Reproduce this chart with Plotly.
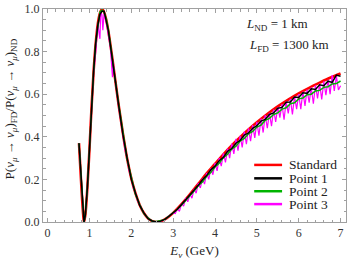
import plotly.graph_objects as go

# ---------------- data ----------------
E_std = [0.75, 0.8, 0.85, 0.87, 0.9, 0.95, 1.0, 1.05, 1.1, 1.15, 1.2, 1.25, 1.3, 1.35, 1.4, 1.45,
         1.5, 1.55, 1.6, 1.7, 1.8, 1.9, 2.0, 2.1, 2.2, 2.3, 2.4, 2.5, 2.6, 2.7, 2.8, 2.9,
         3.0, 3.2, 3.4, 3.6, 3.8, 4.0, 4.2, 4.4, 4.6, 4.8, 5.0, 5.25, 5.5, 5.75, 6.0, 6.25, 6.5, 6.75, 7.0]
P_std = [0.37, 0.19, 0.035, 0.0, 0.03, 0.16, 0.34, 0.54, 0.71, 0.84, 0.93, 0.98, 1.0, 0.985, 0.95, 0.898,
         0.834, 0.764, 0.691, 0.546, 0.415, 0.298, 0.205, 0.134, 0.080, 0.042, 0.017, 0.004, 0.0, 0.003, 0.0125, 0.026,
         0.043, 0.084, 0.130, 0.179, 0.228, 0.273, 0.318, 0.360, 0.398, 0.434, 0.468, 0.507, 0.543, 0.575, 0.604, 0.630, 0.654, 0.677, 0.697]

E_pt = [0.75, 0.8, 0.85, 0.87, 0.9, 0.95, 1.0, 1.05, 1.1, 1.15, 1.2, 1.25, 1.3, 1.35, 1.4, 1.45,
        1.5, 1.55, 1.6, 1.7, 1.8, 1.9, 2.0, 2.1, 2.2, 2.3, 2.4, 2.5, 2.6, 2.7, 2.8, 2.9,
        3.0, 3.1, 3.2, 3.3, 3.4, 3.5, 3.6, 3.7, 3.8, 3.9, 4.0, 4.1, 4.2, 4.3, 4.4, 4.5, 4.6, 4.7, 4.8, 4.9,
        5.0, 5.1, 5.2, 5.3, 5.4, 5.5, 5.6, 5.7, 5.8, 5.9, 6.0, 6.1, 6.2, 6.3, 6.4, 6.5, 6.6, 6.7, 6.8, 6.9, 7.0]
P_p1 = [0.37, 0.19, 0.035, 0.0, 0.03, 0.16, 0.34, 0.54, 0.71, 0.84, 0.925, 0.975, 0.99, 0.99, 0.945, 0.90,
        0.83, 0.765, 0.69, 0.545, 0.41, 0.30, 0.20, 0.135, 0.078, 0.043, 0.016, 0.005, 0.0, 0.004, 0.012, 0.027,
        0.044, 0.060, 0.082, 0.104, 0.125, 0.150, 0.172, 0.198, 0.218, 0.245, 0.262, 0.288, 0.303, 0.332, 0.345,
        0.370, 0.383, 0.408, 0.418, 0.440, 0.452, 0.474, 0.482, 0.505, 0.512, 0.534, 0.538, 0.562, 0.563, 0.587,
        0.585, 0.607, 0.604, 0.625, 0.622, 0.644, 0.640, 0.661, 0.655, 0.690, 0.684]
P_p2 = [0.37, 0.19, 0.035, 0.0, 0.03, 0.16, 0.34, 0.54, 0.71, 0.845, 0.93, 0.985, 0.995, 0.985, 0.955, 0.905,
        0.835, 0.77, 0.69, 0.55, 0.415, 0.295, 0.21, 0.13, 0.082, 0.04, 0.019, 0.003, 0.002, 0.005, 0.011, 0.028,
        0.042, 0.060, 0.080, 0.100, 0.124, 0.145, 0.170, 0.188, 0.215, 0.232, 0.258, 0.276, 0.302, 0.318, 0.342,
        0.356, 0.380, 0.392, 0.414, 0.425, 0.446, 0.455, 0.478, 0.486, 0.505, 0.512, 0.530, 0.536, 0.555, 0.560,
        0.578, 0.582, 0.598, 0.600, 0.615, 0.618, 0.632, 0.635, 0.648, 0.650, 0.662]

E_p3 = [0.75, 0.8, 0.85, 0.87, 0.9, 0.95, 1.0, 1.05, 1.1, 1.15, 1.18, 1.2, 1.22, 1.25, 1.27, 1.3, 1.32, 1.35,
        1.4, 1.45, 1.5, 1.55, 1.57, 1.6, 1.65, 1.7, 1.8, 1.85, 1.9, 1.95, 2.0, 2.05, 2.1, 2.15, 2.2, 2.3, 2.4,
        2.5, 2.6, 2.7, 2.8, 2.9,
        3.0, 3.05, 3.1, 3.15, 3.2, 3.25, 3.3, 3.35, 3.4, 3.45, 3.5, 3.55, 3.6, 3.65, 3.7, 3.75, 3.8, 3.85,
        3.9, 3.95, 4.0, 4.05, 4.1, 4.15, 4.2, 4.25, 4.3, 4.35, 4.4, 4.45, 4.5, 4.55, 4.6, 4.65, 4.7, 4.75,
        4.8, 4.85, 4.9, 4.95, 5.0, 5.05, 5.1, 5.15, 5.2, 5.25, 5.3, 5.35, 5.4, 5.45, 5.5, 5.55, 5.6, 5.65,
        5.7, 5.75, 5.8, 5.85, 5.9, 5.95, 6.0, 6.05, 6.1, 6.15, 6.2, 6.25, 6.3, 6.35, 6.4, 6.45, 6.5, 6.55,
        6.6, 6.65, 6.7, 6.75, 6.8, 6.85, 6.9, 6.95, 7.0]
P_p3 = [0.37, 0.19, 0.035, 0.0, 0.03, 0.16, 0.34, 0.53, 0.70, 0.80, 0.88, 0.93, 0.90, 0.86, 0.99, 0.97, 0.90, 0.98,
        0.94, 0.88, 0.82, 0.68, 0.75, 0.69, 0.60, 0.54, 0.41, 0.34, 0.30, 0.24, 0.21, 0.16, 0.135, 0.10, 0.082, 0.040, 0.020,
        0.003, 0.0, 0.006, 0.010, 0.030,
        0.043, 0.040, 0.062, 0.050, 0.086, 0.075, 0.112, 0.095, 0.130, 0.112, 0.156, 0.135, 0.182, 0.160, 0.205, 0.178,
        0.230, 0.200, 0.252, 0.222, 0.276, 0.240, 0.300, 0.262, 0.322, 0.280, 0.345, 0.300, 0.368, 0.320, 0.390, 0.335,
        0.405, 0.350, 0.425, 0.365, 0.440, 0.380, 0.455, 0.395, 0.470, 0.405, 0.486, 0.420, 0.502, 0.440, 0.512, 0.450,
        0.528, 0.470, 0.540, 0.490, 0.553, 0.480, 0.566, 0.510, 0.578, 0.505, 0.590, 0.530, 0.600, 0.530, 0.612, 0.545,
        0.622, 0.560, 0.632, 0.555, 0.642, 0.580, 0.650, 0.575, 0.660, 0.595, 0.668, 0.600, 0.690, 0.615, 0.685, 0.620,
        0.640]

series_names = ["Standard", "Point 1", "Point 2", "Point 3"]
series_colors = ["#ff0000", "#000000", "#00b400", "#ff00ff"]

x_tickvals = [0, 1, 2, 3, 4, 5, 6, 7]
y_tickvals = [0.0, 0.2, 0.4, 0.6, 0.8, 1.0]
y_ticktext = ["0.0", "0.2", "0.4", "0.6", "0.8", "1.0"]

# ---------------- figure ----------------
FONT = "Liberation Serif, Times New Roman, serif"
fig = go.Figure()

fig.add_trace(go.Scatter(x=E_std, y=P_std, mode="lines", line=dict(color=series_colors[0], width=2.6, shape="spline"),
                         showlegend=False))
fig.add_trace(go.Scatter(x=E_p3, y=P_p3, mode="lines", line=dict(color=series_colors[3], width=1.2), showlegend=False))
fig.add_trace(go.Scatter(x=E_pt, y=P_p2, mode="lines", line=dict(color=series_colors[2], width=1.5), showlegend=False))
fig.add_trace(go.Scatter(x=E_pt, y=P_p1, mode="lines", line=dict(color=series_colors[1], width=1.5), showlegend=False))

axis_common = dict(
    showline=True, linecolor="#a0a0a0", linewidth=1, mirror="ticks",
    ticks="inside", tickcolor="#a0a0a0", ticklen=4, tickwidth=1,
    showgrid=False, zeroline=False,
    tickfont=dict(family=FONT, size=12, color="#333333"),
)
fig.update_xaxes(range=[-0.11, 7.13], tickvals=x_tickvals,
                 minor=dict(ticks="inside", dtick=0.2, ticklen=2.5, tickcolor="#a0a0a0", showgrid=False),
                 title=dict(text="<i>E</i><sub><i>ν</i></sub> (GeV)", font=dict(family=FONT, size=13, color="#222"),
                            standoff=6),
                 **axis_common)
fig.update_yaxes(range=[0, 1.0], tickvals=y_tickvals, ticktext=y_ticktext,
                 minor=dict(ticks="inside", dtick=0.05, ticklen=2.5, tickcolor="#a0a0a0", showgrid=False),
                 **axis_common)

annotations = [
    dict(text="P(<i>ν</i><sub><i>μ</i></sub> → <i>ν</i><sub><i>μ</i></sub>)<sub>FD</sub>/P(<i>ν</i><sub><i>μ</i></sub> → <i>ν</i><sub><i>μ</i></sub>)<sub>ND</sub>",
         xref="paper", yref="paper", x=-0.108, y=0.53, textangle=-90, showarrow=False,
         xanchor="center", yanchor="middle", font=dict(family=FONT, size=13, color="#222")),
    dict(text="<i>L</i><sub>ND</sub> = 1 km", xref="paper", yref="paper", x=0.664, y=0.928,
         xanchor="left", yanchor="middle", showarrow=False, font=dict(family=FONT, size=13, color="#222")),
    dict(text="<i>L</i><sub>FD</sub> = 1300 km", xref="paper", yref="paper", x=0.674, y=0.83,
         xanchor="left", yanchor="middle", showarrow=False, font=dict(family=FONT, size=13, color="#222")),
]
shapes = []
leg_y = [0.268, 0.205, 0.1445, 0.084]
for name, col, yy in zip(series_names, series_colors, leg_y):
    shapes.append(dict(type="line", xref="paper", yref="paper", x0=0.697, x1=0.789, y0=yy, y1=yy,
                       line=dict(color=col, width=2.5)))
    annotations.append(dict(text=name, xref="paper", yref="paper", x=0.804, y=yy, xanchor="left",
                            yanchor="middle", showarrow=False, font=dict(family=FONT, size=13.5, color="#222")))

fig.update_layout(
    width=349, height=261,
    margin=dict(l=43, r=2, t=7, b=39),
    paper_bgcolor="white", plot_bgcolor="white",
    annotations=annotations, shapes=shapes,
    showlegend=False,
)

fig.write_html("out.html", config={"displayModeBar": False},
               post_script="document.body.style.margin='0px';document.body.style.overflow='hidden';")
